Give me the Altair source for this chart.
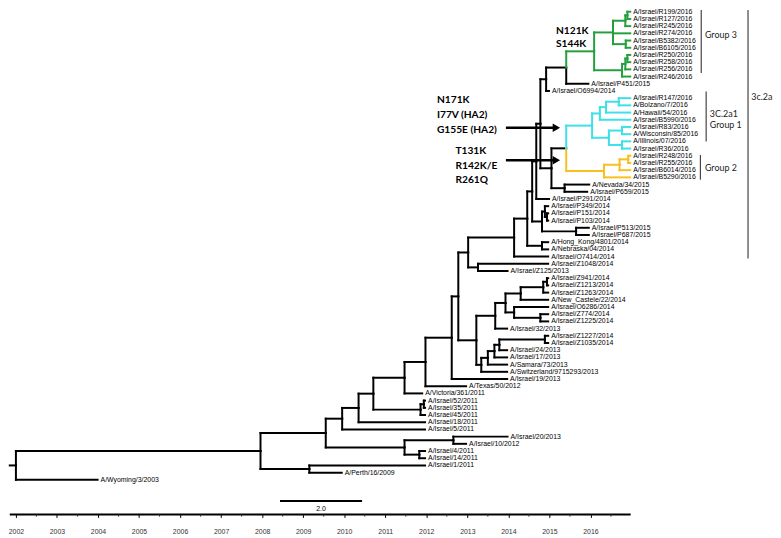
import altair as alt
import pandas as pd

# ---------------- data: tips (top to bottom) ----------------
tip_labels = [
    "A/Israel/R199/2016", "A/Israel/R127/2016", "A/Israel/R245/2016", "A/Israel/R274/2016",
    "A/Israel/B5382/2016", "A/Israel/B6105/2016", "A/Israel/R250/2016", "A/Israel/R258/2016",
    "A/Israel/R256/2016", "A/Israel/R246/2016", "A/Israel/P451/2015", "A/Israel/O6994/2014",
    "A/Israel/R147/2016", "A/Bolzano/7/2016", "A/Hawaii/54/2016", "A/Israel/B5990/2016",
    "A/Israel/R83/2016", "A/Wisconsin/85/2016", "A/Illinois/07/2016", "A/Israel/R36/2016",
    "A/Israel/R248/2016", "A/Israel/R255/2016", "A/Israel/B6014/2016", "A/Israel/B5290/2016",
    "A/Nevada/34/2015", "A/Israel/P659/2015", "A/Israel/P291/2014", "A/Israel/P349/2014",
    "A/Israel/P151/2014", "A/Israel/P103/2014", "A/Israel/P513/2015", "A/Israel/P687/2015",
    "A/Hong_Kong/4801/2014", "A/Nebraska/04/2014", "A/Israel/O7414/2014", "A/Israel/Z1048/2014",
    "A/Israel/Z125/2013", "A/Israel/Z941/2014", "A/Israel/Z1213/2014", "A/Israel/Z1263/2014",
    "A/New_Castele/22/2014", "A/Israel/O6286/2014", "A/Israel/Z774/2014", "A/Israel/Z1225/2014",
    "A/Israel/32/2013", "A/Israel/Z1227/2014", "A/Israel/Z1035/2014", "A/Israel/24/2013",
    "A/Israel/17/2013", "A/Samara/73/2013", "A/Switzerland/9715293/2013", "A/Israel/19/2013",
    "A/Texas/50/2012", "A/Victoria/361/2011", "A/Israel/52/2011", "A/Israel/35/2011",
    "A/Israel/45/2011", "A/Israel/18/2011", "A/Israel/5/2011", "A/Israel/20/2013",
    "A/Israel/10/2012", "A/Israel/4/2011", "A/Israel/14/2011", "A/Israel/1/2011",
    "A/Perth/16/2009", "A/Wyoming/3/2003",
]
tip_parents = [
    "A2", "A2", "A1", "A", "A3", "A3", "C2", "C2", "C1", "C",
    "NG3P", "NO", "Nc3", "Nc3", "Nc2", "Nc1", "Nc5", "Nc5", "Nc6", "Nc6",
    "Y2", "Y2", "Y1", "Y0", "NNV", "NNV", "NQ", "NP349", "NP151", "NP151",
    "NP513", "NP513", "NHK", "NHK", "NB", "NZ125", "NZ125", "NZ941", "NZ941", "NZ1263",
    "M4", "M5", "NZ774", "NZ774", "M1", "NZ1227", "NZ1227", "L1", "L2", "L3",
    "L4", "Nb", "NT", "NV", "N52a", "N52a", "N52", "N4", "N3", "N20",
    "N20", "N414", "N414", "Nperth", "Nperth", "root",
]
tip_years = [
    2016.97, 2016.97, 2016.97, 2016.97, 2016.97, 2016.97, 2016.97, 2016.97, 2016.97, 2016.97,
    2015.95, 2014.99, 2016.97, 2016.97, 2016.97, 2016.97, 2016.97, 2016.97, 2016.97, 2016.97,
    2016.97, 2016.97, 2016.97, 2016.97, 2015.97, 2015.92, 2014.99, 2014.97, 2014.97, 2014.97,
    2015.96, 2015.96, 2014.97, 2014.97, 2014.97, 2014.97, 2013.98, 2014.97, 2014.97, 2014.97,
    2014.97, 2014.97, 2014.97, 2014.97, 2013.97, 2014.97, 2014.97, 2013.97, 2013.97, 2013.97,
    2013.97, 2013.97, 2012.97, 2011.90, 2011.97, 2011.97, 2011.97, 2011.97, 2011.97, 2013.98,
    2012.97, 2011.97, 2011.97, 2011.97, 2009.94, 2003.99,
]

# ---------------- data: internal nodes ----------------
node_ids = [
    "root", "N1", "Nperth", "N2", "N3", "N5", "N20", "N414", "N4", "X",
    "N52", "N52a", "NV", "NT", "Nb", "Na", "NA", "NZ125", "NB", "NC",
    "ND", "NHK", "NE", "NP349", "NP151", "NP513", "NQ", "NP", "NO", "NG3P",
    "G3", "A", "A1", "A2", "A3", "C", "C1", "C2", "NNC", "CR",
    "CG1", "Nc1", "Nc2", "Nc3", "Nc4", "Nc5", "Nc6", "Y0", "Y1", "Y2",
    "NNV", "M", "M1", "M3", "M4", "NZ1263", "NZ941", "M5", "NZ774", "L4",
    "L3", "L2", "L1", "NZ1227",
]
node_parents = [
    None, "root", "N1", "N1", "N2", "N2", "N5", "N5", "N3", "N4",
    "X", "N52", "X", "NV", "NT", "Nb", "Na", "NA", "NA", "NB",
    "NC", "NC", "ND", "NE", "NP349", "NE", "ND", "NQ", "NP", "NO",
    "NG3P", "G3", "A", "A1", "A", "G3", "C", "C1", "NP", "NNC",
    "CR", "CG1", "Nc1", "Nc2", "CG1", "Nc4", "Nc4", "CR", "Y0", "Y1",
    "NNC", "Na", "M", "M1", "M3", "M4", "NZ1263", "M3", "M5", "M",
    "L4", "L3", "L2", "L1",
]
node_years = [
    2002.00, 2007.96, 2009.15, 2009.55, 2009.95, 2011.47, 2012.66, 2011.83, 2010.35, 2010.71,
    2011.86, 2011.94, 2011.47, 2011.98, 2012.62, 2012.78, 2013.02, 2013.26, 2014.14, 2014.46,
    2014.58, 2014.82, 2014.82, 2014.89, 2014.94, 2015.65, 2014.68, 2014.78, 2014.92, 2015.41,
    2016.09, 2016.55, 2016.85, 2016.90, 2016.86, 2016.77, 2016.85, 2016.90, 2015.05, 2015.41,
    2016.04, 2016.23, 2016.38, 2016.69, 2016.45, 2016.77, 2016.77, 2016.33, 2016.71, 2016.92,
    2015.37, 2013.22, 2013.68, 2013.93, 2014.30, 2014.85, 2014.94, 2014.14, 2014.78, 2013.34,
    2013.50, 2013.66, 2013.78, 2014.89,
]
root_stub_year = 2001.85
clade_colours = {"G3": "#23a03c", "CG1": "#3de0e8", "Y0": "#f7c01c"}

# ---------------- build tree geometry ----------------
parent = {}
year = {}
children = {}
for n, p, yv in zip(node_ids, node_parents, node_years):
    parent[n] = p
    year[n] = yv
for i, (lab, p, yv) in enumerate(zip(tip_labels, tip_parents, tip_years)):
    tid = f"tip{i}"
    parent[tid] = p
    year[tid] = yv
ypos = {f"tip{i}": i + 1 for i in range(len(tip_labels))}
for n, p in parent.items():
    if p is not None:
        children.setdefault(p, []).append(n)


def node_y(n):
    if n not in ypos:
        ys = [node_y(c) for c in children[n]]
        ypos[n] = (min(ys) + max(ys)) / 2
    return ypos[n]


def colour(n):
    m = n
    while m is not None:
        if m in clade_colours:
            return clade_colours[m]
        m = parent[m]
    return "#000000"


node_y("root")
segs = []
for n, p in parent.items():
    if p is None:
        continue
    segs.append(dict(x=year[p], x2=year[n], y=ypos[n], y2=ypos[n], col=colour(n)))
    segs.append(dict(x=year[p], x2=year[p], y=ypos[p], y2=ypos[n], col=colour(n)))
segs.append(dict(x=root_stub_year, x2=year["root"], y=ypos["root"], y2=ypos["root"], col="#000000"))
seg_df = pd.DataFrame(segs)
seg_df["order"] = (seg_df["col"] != "#000000").astype(int)
seg_df = seg_df.sort_values("order")

tips_df = pd.DataFrame({"x": tip_years, "y": list(range(1, len(tip_labels) + 1)), "label": tip_labels})

# ---------------- scales / axis ----------------
ROW_PX = 473 / 65
Y_TOP = 1 - 1 / ROW_PX
Y_BOT = Y_TOP + 509 / ROW_PX
XS = alt.Scale(domain=[2001.80707, 2020.4486], nice=False, zero=False)
YS = alt.Scale(domain=[Y_TOP, Y_BOT], nice=False, zero=False, reverse=True)
XAXIS = alt.Axis(values=list(range(2002, 2017)), format="d", domain=False, grid=False,
                 tickSize=3, tickWidth=1, tickColor="#000", labelFontSize=7,
                 labelFont="Liberation Sans", labelColor="#333", labelPadding=10,
                 labelFlush=False, labelOverlap=False, title=None)


def X(f):
    return alt.X(f"{f}:Q", scale=XS, axis=XAXIS)


def Y(f):
    return alt.Y(f"{f}:Q", scale=YS, axis=None)


tree = alt.Chart(seg_df).mark_rule(strokeWidth=2, strokeCap="square").encode(
    x=X("x"), x2="x2", y=Y("y"), y2="y2", color=alt.Color("col:N", scale=None))

tips = alt.Chart(tips_df).mark_text(align="left", baseline="middle", dx=3, font="Liberation Sans",
                                    fontSize=7, color="black").encode(
    x=X("x"), y=Y("y"), text="label:N")

# time axis line and minor ticks
axis_line = alt.Chart(pd.DataFrame({"x": [2001.85], "x2": [2016.98], "y": [Y_BOT]})).mark_rule(
    strokeWidth=2, color="black").encode(x=X("x"), x2="x2", y=Y("y"))
half_years = [2002.5, 2003.5, 2004.5, 2005.5, 2006.5, 2007.5, 2008.5, 2009.5,
              2010.5, 2011.5, 2012.5, 2013.5, 2014.5, 2015.5, 2016.5]
minor = alt.Chart(pd.DataFrame({"x": half_years, "y": Y_BOT, "y2": Y_BOT + 2.2 / ROW_PX})).mark_rule(
    strokeWidth=1, color="#333").encode(x=X("x"), y=Y("y"), y2="y2")

# scale bar
sbar = alt.Chart(pd.DataFrame({"x": [2008.435], "x2": [2010.435], "y": [68.94]})).mark_rule(
    strokeWidth=2, color="black").encode(x=X("x"), x2="x2", y=Y("y"))
sbar_txt = alt.Chart(pd.DataFrame({"x": [2009.435], "y": [69.99], "t": ["2.0"]})).mark_text(
    font="Liberation Sans", fontSize=7, color="black", baseline="middle").encode(
    x=X("x"), y=Y("y"), text="t:N")

# mutation annotations
mut_df = pd.DataFrame({
    "x": [2015.16, 2015.16, 2012.26, 2012.26, 2012.26, 2012.71, 2012.71, 2012.71],
    "y": [3.70, 5.54, 13.27, 15.32, 17.37, 20.33, 22.38, 24.43],
    "t": ["N121K", "S144K", "N171K", "I77V (HA2)", "G155E (HA2)", "T131K", "R142K/E", "R261Q"],
})
muts = alt.Chart(mut_df).mark_text(align="left", baseline="middle", font="Lato", fontSize=10.3,
                                   fontWeight="bold", color="black").encode(
    x=X("x"), y=Y("y"), text="t:N")
arrow_df = pd.DataFrame({"x": [2013.94, 2013.94], "x2": [2015.10, 2015.10], "y": [17.12, 21.63]})
arrows = alt.Chart(arrow_df).mark_rule(strokeWidth=2.5, color="black").encode(
    x=X("x"), x2="x2", y=Y("y"))
heads = alt.Chart(pd.DataFrame({"x": [2015.17, 2015.17], "y": [17.12, 21.63]})).mark_point(
    shape="triangle-right", filled=True, size=75, opacity=1, color="black", strokeWidth=0).encode(
    x=X("x"), y=Y("y"))

# clade brackets
br_df = pd.DataFrame({
    "x": [2018.70, 2018.82, 2018.68, 2019.84],
    "y": [0.75, 12.07, 20.90, 0.75],
    "y2": [9.51, 19.03, 24.32, 35.25],
})
brackets = alt.Chart(br_df).mark_rule(strokeWidth=1.2, color="#444").encode(
    x=X("x"), y=Y("y"), y2="y2")
brt_df = pd.DataFrame({
    "x": [2018.79, 2018.91, 2018.91, 2018.79, 2019.92],
    "y": [4.28, 15.20, 16.78, 22.72, 12.89],
    "t": ["Group 3", "3C.2a1", "Group 1", "Group 2", "3c.2a"],
})
br_txt = alt.Chart(brt_df).mark_text(align="left", baseline="middle", font="Lato", fontSize=9,
                                     color="#222").encode(x=X("x"), y=Y("y"), text="t:N")

chart = alt.layer(
    axis_line, minor, tree, tips, sbar, sbar_txt, muts, arrows, heads, brackets, br_txt
).properties(
    width=773, height=509,
    padding={"left": 0, "top": 0, "right": 0, "bottom": 21},
    autosize=alt.AutoSizeParams(type="none"),
).configure_view(stroke=None)

chart.save("out.html", embed_options={"renderer": "svg", "actions": False})
